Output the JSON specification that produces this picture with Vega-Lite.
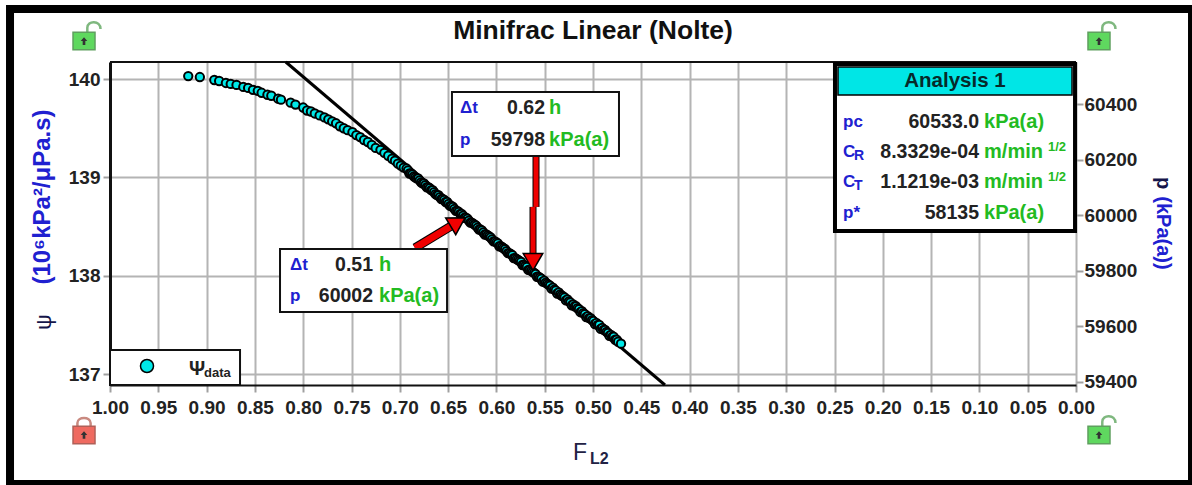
{"$schema":"https://vega.github.io/schema/vega-lite/v6.json","width":966,"height":323,"autosize":{"type":"none"},"padding":{"left":110,"top":62,"right":116,"bottom":100},"background":"white",
"config":{"view":{"stroke":null},"text":{"font":"Liberation Sans"},"axis":{"labelFont":"Liberation Sans","labelFontWeight":"bold","labelFontSize":19,"labelColor":"#222222"}},
"datasets":{
"readings":[{"fl2":0.919,"psi":140.03},{"fl2":0.907,"psi":140.02},{"fl2":0.892,"psi":139.99},{"fl2":0.887,"psi":139.98},{"fl2":0.88,"psi":139.96},{"fl2":0.875,"psi":139.95},{"fl2":0.869,"psi":139.94},{"fl2":0.862,"psi":139.92},{"fl2":0.857,"psi":139.91},{"fl2":0.852,"psi":139.89},{"fl2":0.847,"psi":139.88},{"fl2":0.843,"psi":139.86},{"fl2":0.837,"psi":139.84},{"fl2":0.833,"psi":139.83},{"fl2":0.826,"psi":139.8},{"fl2":0.823,"psi":139.79},{"fl2":0.813,"psi":139.76},{"fl2":0.808,"psi":139.74},{"fl2":0.8,"psi":139.71},{"fl2":0.796,"psi":139.68},{"fl2":0.792,"psi":139.67},{"fl2":0.788,"psi":139.65},{"fl2":0.783,"psi":139.63},{"fl2":0.778,"psi":139.61},{"fl2":0.774,"psi":139.59},{"fl2":0.77,"psi":139.57},{"fl2":0.766,"psi":139.55},{"fl2":0.762,"psi":139.52},{"fl2":0.758,"psi":139.5},{"fl2":0.754,"psi":139.48},{"fl2":0.749,"psi":139.46},{"fl2":0.745,"psi":139.43},{"fl2":0.741,"psi":139.41},{"fl2":0.737,"psi":139.38},{"fl2":0.733,"psi":139.36},{"fl2":0.729,"psi":139.33},{"fl2":0.725,"psi":139.3},{"fl2":0.72,"psi":139.28},{"fl2":0.716,"psi":139.25},{"fl2":0.712,"psi":139.22},{"fl2":0.708,"psi":139.19},{"fl2":0.705,"psi":139.17},{"fl2":0.702,"psi":139.14},{"fl2":0.699,"psi":139.12},{"fl2":0.696,"psi":139.1},{"fl2":0.693,"psi":139.09},{"fl2":0.69,"psi":139.04},{"fl2":0.687,"psi":139.03},{"fl2":0.684,"psi":139.0},{"fl2":0.681,"psi":138.99},{"fl2":0.678,"psi":138.95},{"fl2":0.675,"psi":138.94},{"fl2":0.672,"psi":138.9},{"fl2":0.669,"psi":138.89},{"fl2":0.666,"psi":138.87},{"fl2":0.663,"psi":138.83},{"fl2":0.66,"psi":138.82},{"fl2":0.657,"psi":138.78},{"fl2":0.654,"psi":138.77},{"fl2":0.651,"psi":138.75},{"fl2":0.648,"psi":138.71},{"fl2":0.645,"psi":138.7},{"fl2":0.642,"psi":138.66},{"fl2":0.639,"psi":138.65},{"fl2":0.636,"psi":138.63},{"fl2":0.633,"psi":138.59},{"fl2":0.63,"psi":138.58},{"fl2":0.627,"psi":138.54},{"fl2":0.624,"psi":138.53},{"fl2":0.621,"psi":138.51},{"fl2":0.618,"psi":138.47},{"fl2":0.615,"psi":138.46},{"fl2":0.612,"psi":138.42},{"fl2":0.609,"psi":138.41},{"fl2":0.606,"psi":138.39},{"fl2":0.603,"psi":138.35},{"fl2":0.6,"psi":138.34},{"fl2":0.597,"psi":138.3},{"fl2":0.594,"psi":138.29},{"fl2":0.591,"psi":138.27},{"fl2":0.588,"psi":138.23},{"fl2":0.585,"psi":138.22},{"fl2":0.582,"psi":138.18},{"fl2":0.579,"psi":138.17},{"fl2":0.576,"psi":138.15},{"fl2":0.573,"psi":138.11},{"fl2":0.57,"psi":138.1},{"fl2":0.567,"psi":138.06},{"fl2":0.564,"psi":138.05},{"fl2":0.561,"psi":138.03},{"fl2":0.558,"psi":137.99},{"fl2":0.555,"psi":137.98},{"fl2":0.552,"psi":137.94},{"fl2":0.549,"psi":137.93},{"fl2":0.546,"psi":137.91},{"fl2":0.543,"psi":137.87},{"fl2":0.54,"psi":137.86},{"fl2":0.537,"psi":137.82},{"fl2":0.534,"psi":137.81},{"fl2":0.531,"psi":137.79},{"fl2":0.528,"psi":137.75},{"fl2":0.525,"psi":137.74},{"fl2":0.522,"psi":137.7},{"fl2":0.519,"psi":137.69},{"fl2":0.516,"psi":137.67},{"fl2":0.513,"psi":137.63},{"fl2":0.51,"psi":137.62},{"fl2":0.507,"psi":137.58},{"fl2":0.504,"psi":137.57},{"fl2":0.501,"psi":137.55},{"fl2":0.498,"psi":137.51},{"fl2":0.495,"psi":137.5},{"fl2":0.492,"psi":137.46},{"fl2":0.489,"psi":137.45},{"fl2":0.486,"psi":137.43},{"fl2":0.483,"psi":137.39},{"fl2":0.48,"psi":137.38},{"fl2":0.477,"psi":137.35},{"fl2":0.474,"psi":137.33},{"fl2":0.471,"psi":137.31},
{"fl2":0.6915,"psi":139.07},{"fl2":0.6885,"psi":139.04},{"fl2":0.6855,"psi":139.01},{"fl2":0.6825,"psi":138.99},{"fl2":0.6795,"psi":138.97},{"fl2":0.6765,"psi":138.94},{"fl2":0.6735,"psi":138.92},{"fl2":0.6705,"psi":138.9},{"fl2":0.6675,"psi":138.87},{"fl2":0.6645,"psi":138.85},{"fl2":0.6615,"psi":138.82},{"fl2":0.6585,"psi":138.8},{"fl2":0.6555,"psi":138.78},{"fl2":0.6525,"psi":138.75},{"fl2":0.6495,"psi":138.73},{"fl2":0.6465,"psi":138.71},{"fl2":0.6435,"psi":138.68},{"fl2":0.6405,"psi":138.66},{"fl2":0.6375,"psi":138.63},{"fl2":0.6345,"psi":138.61},{"fl2":0.6315,"psi":138.59},{"fl2":0.6285,"psi":138.56},{"fl2":0.6255,"psi":138.54},{"fl2":0.6225,"psi":138.52},{"fl2":0.6195,"psi":138.49},{"fl2":0.6165,"psi":138.47},{"fl2":0.6135,"psi":138.44},{"fl2":0.6105,"psi":138.42},{"fl2":0.6075,"psi":138.4},{"fl2":0.6045,"psi":138.37},{"fl2":0.6015,"psi":138.35},{"fl2":0.5985,"psi":138.33},{"fl2":0.5955,"psi":138.3},{"fl2":0.5925,"psi":138.28},{"fl2":0.5895,"psi":138.25},{"fl2":0.5865,"psi":138.23},{"fl2":0.5835,"psi":138.21},{"fl2":0.5805,"psi":138.18},{"fl2":0.5775,"psi":138.16},{"fl2":0.5745,"psi":138.14},{"fl2":0.5715,"psi":138.11},{"fl2":0.5685,"psi":138.09},{"fl2":0.5655,"psi":138.06},{"fl2":0.5625,"psi":138.04},{"fl2":0.5595,"psi":138.02},{"fl2":0.5565,"psi":137.99},{"fl2":0.5535,"psi":137.97},{"fl2":0.5505,"psi":137.95},{"fl2":0.5475,"psi":137.92},{"fl2":0.5445,"psi":137.9},{"fl2":0.5415,"psi":137.88},{"fl2":0.5385,"psi":137.85},{"fl2":0.5355,"psi":137.83},{"fl2":0.5325,"psi":137.8},{"fl2":0.5295,"psi":137.78},{"fl2":0.5265,"psi":137.76},{"fl2":0.5235,"psi":137.73},{"fl2":0.5205,"psi":137.71},{"fl2":0.5175,"psi":137.69},{"fl2":0.5145,"psi":137.66},{"fl2":0.5115,"psi":137.64},{"fl2":0.5085,"psi":137.61},{"fl2":0.5055,"psi":137.59},{"fl2":0.5025,"psi":137.57},{"fl2":0.4995,"psi":137.54},{"fl2":0.4965,"psi":137.52},{"fl2":0.4935,"psi":137.5},{"fl2":0.4905,"psi":137.47},{"fl2":0.4875,"psi":137.45},{"fl2":0.4845,"psi":137.42},{"fl2":0.4815,"psi":137.4},{"fl2":0.4785,"psi":137.38},{"fl2":0.4755,"psi":137.35}],
"fit":[{"fl2":0.818,"psi":140.173},{"fl2":0.4255,"psi":136.89}]
},
"layer":[{
"encoding":{
"x":{"field":"fl2","type":"quantitative","scale":{"domain":[1,0],"nice":false,"zero":false},"title":null,"axis":{"values":[1,0.95,0.9,0.85,0.8,0.75,0.7,0.65,0.6,0.55,0.5,0.45,0.4,0.35,0.3,0.25,0.2,0.15,0.1,0.05,0],"format":".2f","grid":true,"gridColor":"#b4b4b4","gridWidth":2,"tickColor":"#a0a0a0","tickSize":7,"tickWidth":2,"labelPadding":6,"domain":true,"domainColor":"#111111","domainWidth":2,"labelOverlap":false,"labelFlush":false}},
"y":{"field":"psi","type":"quantitative","scale":{"domain":[136.89,140.173],"nice":false,"zero":false},"title":null,"axis":{"values":[137,138,139,140],"format":"d","grid":true,"gridColor":"#b4b4b4","gridWidth":2,"tickColor":"#a0a0a0","tickSize":7,"tickWidth":2,"labelPadding":3,"domain":true,"domainColor":"#111111","domainWidth":3}}
},
"layer":[
{"data":{"values":[{"fl2":1.1035,"psi":140.711,"fl2b":-0.1201,"psib":135.884}]},"mark":{"type":"rect","fill":null,"stroke":"#000000","strokeWidth":8,"clip":false},"encoding":{"x2":{"field":"fl2b"},"y2":{"field":"psib"}}},
{"data":{"values":[{"fl2":1,"psi":140.173},{"fl2":0,"psi":140.173}]},"mark":{"type":"line","color":"#111111","strokeWidth":2,"clip":false},"encoding":{}},
{"data":{"name":"fit"},"mark":{"type":"line","color":"#000000","strokeWidth":3},"encoding":{}},
{"data":{"name":"readings"},"mark":{"type":"point","shape":"circle","filled":true,"fill":"#00e8e8","stroke":"#000000","strokeWidth":2,"size":70,"opacity":1},"encoding":{"order":{"field":"fl2","sort":"descending"}}},
{"data":{"values":[{"fl2":0.6843,"psi":138.283,"fl2b":0.6398,"psib":138.547}]},"mark":{"type":"rule","color":"#000000","strokeWidth":9},"encoding":{"x2":{"field":"fl2b"},"y2":{"field":"psib"}}},
{"data":{"values":[{"fl2":0.559,"psi":139.217,"fl2b":0.559,"psib":138.70},{"fl2":0.5621,"psi":138.70,"fl2b":0.5621,"psib":138.14}]},"mark":{"type":"rule","color":"#000000","strokeWidth":7},"encoding":{"x2":{"field":"fl2b"},"y2":{"field":"psib"}}},
{"data":{"values":[{"fl2":0.6843,"psi":138.283,"fl2b":0.6398,"psib":138.547}]},"mark":{"type":"rule","color":"#f00000","strokeWidth":7},"encoding":{"x2":{"field":"fl2b"},"y2":{"field":"psib"}}},
{"data":{"values":[{"fl2":0.559,"psi":139.217,"fl2b":0.559,"psib":138.70},{"fl2":0.5621,"psi":138.70,"fl2b":0.5621,"psib":138.14}]},"mark":{"type":"rule","color":"#f00000","strokeWidth":5},"encoding":{"x2":{"field":"fl2b"},"y2":{"field":"psib"}}},
{"data":{"values":[{"fl2":0.6398,"psi":138.547,"heading":59},{"fl2":0.5621,"psi":138.14,"heading":180}]},"mark":{"type":"point","shape":"triangle-up","filled":true,"fill":"#f00000","stroke":"#000000","strokeWidth":1.5,"size":380,"opacity":1},"encoding":{"angle":{"field":"heading","type":"quantitative","scale":null}}},
{"data":{"values":[{"fl2":0.824,"psi":138.272,"fl2b":0.6511,"psib":137.632},{"fl2":0.646,"psi":139.868,"fl2b":0.4731,"psib":139.217},{"fl2":1,"psi":137.246,"fl2b":0.8654,"psib":136.89}]},"mark":{"type":"rect","fill":"#ffffff","stroke":"#111111","strokeWidth":2,"clip":false},"encoding":{"x2":{"field":"fl2b"},"y2":{"field":"psib"}}},
{"data":{"values":[{"fl2":0.2495,"psi":140.152,"fl2b":0.001,"psib":138.455}]},"mark":{"type":"rect","fill":"#ffffff","stroke":"#000000","strokeWidth":4,"clip":false},"encoding":{"x2":{"field":"fl2b"},"y2":{"field":"psib"}}},
{"data":{"values":[{"fl2":0.2464,"psi":140.122,"fl2b":0.0041,"psib":139.837}]},"mark":{"type":"rect","fill":"#00e6e6","stroke":"#000000","strokeWidth":1.5,"clip":false},"encoding":{"x2":{"field":"fl2b"},"y2":{"field":"psib"}}},
{"data":{"values":[{"fl2":0.9617,"psi":137.083}]},"mark":{"type":"point","shape":"circle","filled":true,"fill":"#00e8e8","stroke":"#000000","strokeWidth":1.5,"size":170,"opacity":1},"encoding":{}},
{"data":{"values":[{"fl2":0.5,"psi":140.488,"label":"Minifrac Linear (Nolte)"}]},"mark":{"type":"text","fontSize":26.5,"fontWeight":"bold","color":"#111111","align":"center","baseline":"middle","clip":false},"encoding":{"text":{"field":"label"}}},
{"data":{"values":[{"fl2":0.1253,"psi":139.98,"label":"Analysis 1"}]},"mark":{"type":"text","fontSize":20.5,"fontWeight":"bold","color":"#062a2a","align":"center","baseline":"middle","clip":false},"encoding":{"text":{"field":"label"}}},
{"data":{"values":[{"fl2":0.2412,"psi":139.563,"label":"pc"},{"fl2":0.2412,"psi":139.258,"label":"C"},{"fl2":0.2412,"psi":138.953,"label":"C"},{"fl2":0.2412,"psi":138.638,"label":"p*"},{"fl2":0.6377,"psi":139.705,"label":"Δt"},{"fl2":0.6377,"psi":139.38,"label":"p"},{"fl2":0.8137,"psi":138.11,"label":"Δt"},{"fl2":0.8137,"psi":137.795,"label":"p"}]},"mark":{"type":"text","fontSize":17,"fontWeight":"bold","color":"#2020d0","align":"left","baseline":"middle","clip":false},"encoding":{"text":{"field":"label"}}},
{"data":{"values":[{"fl2":0.2298,"psi":139.217,"label":"R"},{"fl2":0.2298,"psi":138.913,"label":"T"}]},"mark":{"type":"text","fontSize":14,"fontWeight":"bold","color":"#2020d0","align":"left","baseline":"middle","clip":false},"encoding":{"text":{"field":"label"}}},
{"data":{"values":[{"fl2":0.1004,"psi":139.563,"label":"60533.0"},{"fl2":0.1004,"psi":139.258,"label":"8.3329e-04"},{"fl2":0.1004,"psi":138.953,"label":"1.1219e-03"},{"fl2":0.1004,"psi":138.638,"label":"58135"},{"fl2":0.5497,"psi":139.705,"label":"0.62"},{"fl2":0.5497,"psi":139.38,"label":"59798"},{"fl2":0.7277,"psi":138.11,"label":"0.51"},{"fl2":0.7277,"psi":137.795,"label":"60002"}]},"mark":{"type":"text","fontSize":19.5,"fontWeight":"bold","color":"#222222","align":"right","baseline":"middle","clip":false},"encoding":{"text":{"field":"label"}}},
{"data":{"values":[{"fl2":0.0952,"psi":139.563,"label":"kPa(a)"},{"fl2":0.0952,"psi":139.258,"label":"m/min"},{"fl2":0.0952,"psi":138.953,"label":"m/min"},{"fl2":0.0952,"psi":138.638,"label":"kPa(a)"},{"fl2":0.5455,"psi":139.705,"label":"h"},{"fl2":0.5455,"psi":139.38,"label":"kPa(a)"},{"fl2":0.7215,"psi":138.11,"label":"h"},{"fl2":0.7215,"psi":137.795,"label":"kPa(a)"}]},"mark":{"type":"text","fontSize":20,"fontWeight":"bold","color":"#22bb22","align":"left","baseline":"middle","clip":false},"encoding":{"text":{"field":"label"}}},
{"data":{"values":[{"fl2":0.029,"psi":139.309,"label":"1/2"},{"fl2":0.029,"psi":139.004,"label":"1/2"}]},"mark":{"type":"text","fontSize":13,"fontWeight":"bold","color":"#22bb22","align":"left","baseline":"middle","clip":false},"encoding":{"text":{"field":"label"}}},
{"data":{"values":[{"fl2":0.9099,"psi":137.053,"label":"Ψ"}]},"mark":{"type":"text","fontSize":20,"fontWeight":"bold","color":"#222222","align":"center","baseline":"middle","clip":false},"encoding":{"text":{"field":"label"}}},
{"data":{"values":[{"fl2":0.9027,"psi":137.012,"label":"data"}]},"mark":{"type":"text","fontSize":13,"fontWeight":"bold","color":"#222222","align":"left","baseline":"middle","clip":false},"encoding":{"text":{"field":"label"}}},
{"data":{"values":[{"fl2":1.0694,"psi":138.801,"label":"(10⁶kPa²/μPa.s)"}]},"mark":{"type":"text","fontSize":24,"fontWeight":"bold","color":"#2020d0","angle":270,"align":"center","baseline":"middle","clip":false},"encoding":{"text":{"field":"label"}}},
{"data":{"values":[{"fl2":1.0683,"psi":137.53,"label":"ψ"}]},"mark":{"type":"text","fontSize":22,"color":"#15154a","angle":270,"align":"center","baseline":"middle","clip":false},"encoding":{"text":{"field":"label"}}},
{"data":{"values":[{"fl2":-0.0901,"psi":138.943,"label":"p"}]},"mark":{"type":"text","fontSize":20,"fontWeight":"bold","color":"#15154a","angle":90,"align":"center","baseline":"middle","clip":false},"encoding":{"text":{"field":"label"}}},
{"data":{"values":[{"fl2":-0.0901,"psi":138.435,"label":"(kPa(a))"}]},"mark":{"type":"text","fontSize":20,"fontWeight":"bold","color":"#2020d0","angle":90,"align":"center","baseline":"middle","clip":false},"encoding":{"text":{"field":"label"}}},
{"data":{"values":[{"fl2":0.5135,"psi":136.199,"label":"F"}]},"mark":{"type":"text","fontSize":23,"color":"#222244","align":"center","baseline":"middle","clip":false},"encoding":{"text":{"field":"label"}}},
{"data":{"values":[{"fl2":0.5031,"psi":136.138,"label":"L2"}]},"mark":{"type":"text","fontSize":16,"fontWeight":"bold","color":"#222244","align":"left","baseline":"middle","clip":false},"encoding":{"text":{"field":"label"}}},
{"data":{"values":[{"fl2":1.0269,"psi":140.386},{"fl2":-0.0238,"psi":140.386},{"fl2":-0.0238,"psi":136.382}]},"mark":{"type":"point","shape":"M0.3,-0.8V-1.2C0.3,-1.9 1.5,-1.9 1.5,-1.1","filled":false,"stroke":"#7fb87f","strokeWidth":2.5,"size":484,"opacity":1,"clip":false},"encoding":{}},
{"data":{"values":[{"fl2":1.0269,"psi":136.382}]},"mark":{"type":"point","shape":"M-0.6,-0.7V-1.1C-0.6,-1.7 0.6,-1.7 0.6,-1.1V-0.7","filled":false,"stroke":"#c98a80","strokeWidth":2.5,"size":484,"opacity":1,"clip":false},"encoding":{}},
{"data":{"values":[{"fl2":1.0269,"psi":140.386},{"fl2":-0.0238,"psi":140.386},{"fl2":-0.0238,"psi":136.382}]},"mark":{"type":"point","shape":"M-1,-0.8H1V0.8H-1Z","filled":true,"fill":"#5fd85f","stroke":"#5f9f5f","strokeWidth":1.5,"size":484,"opacity":1,"clip":false},"encoding":{}},
{"data":{"values":[{"fl2":1.0269,"psi":136.382}]},"mark":{"type":"point","shape":"M-1,-0.8H1V0.8H-1Z","filled":true,"fill":"#ef6a60","stroke":"#b06058","strokeWidth":1.5,"size":484,"opacity":1,"clip":false},"encoding":{}},
{"data":{"values":[{"fl2":1.0269,"psi":140.386},{"fl2":-0.0238,"psi":140.386},{"fl2":-0.0238,"psi":136.382},{"fl2":1.0269,"psi":136.382}]},"mark":{"type":"point","shape":"M0,-0.35L0.3,0H0.12V0.35H-0.12V0H-0.3Z","filled":true,"fill":"#333333","stroke":null,"size":484,"opacity":1,"clip":false},"encoding":{}}
]},
{"data":{"values":[{"fl2":0.6,"pressure":60002},{"fl2":0.55,"pressure":59798}]},
"mark":{"type":"point","opacity":0},
"encoding":{"x":{"field":"fl2","type":"quantitative","scale":{"domain":[1,0],"nice":false,"zero":false},"title":null},
"y":{"field":"pressure","type":"quantitative","scale":{"domain":[59389,60553],"nice":false,"zero":false},"title":null,"axis":{"orient":"right","values":[59400,59600,59800,60000,60200,60400],"format":"d","grid":false,"tickColor":"#a0a0a0","tickSize":7,"tickWidth":2,"labelPadding":1,"domain":false}}}}
],
"resolve":{"scale":{"y":"independent"}}}
